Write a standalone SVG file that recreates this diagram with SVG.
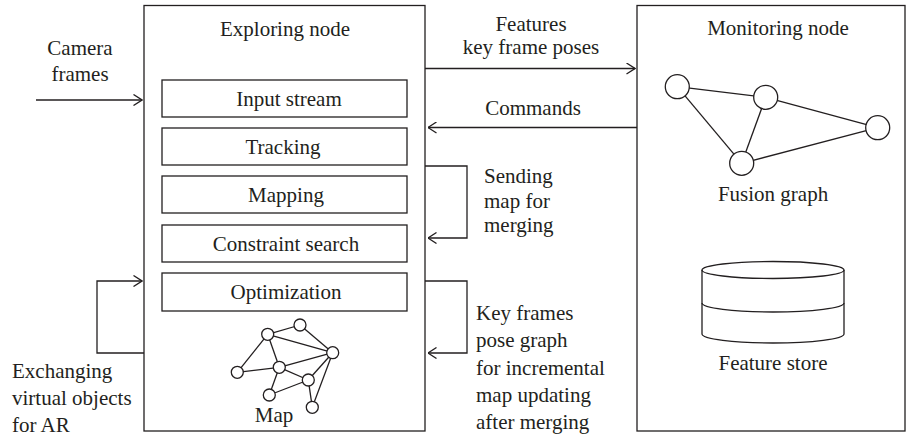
<svg xmlns="http://www.w3.org/2000/svg" width="906" height="436" viewBox="0 0 906 436">
  <style>
    text { font-family: "Liberation Serif", "Times New Roman", serif; font-size: 21px; fill: #231f20; }
    .mid { text-anchor: middle; }
    .box { fill: none; stroke: #231f20; stroke-width: 1.3; }
    .line { fill: none; stroke: #231f20; stroke-width: 1.3; }
    .node { fill: #ffffff; stroke: #231f20; stroke-width: 1.3; }
  </style>
  <defs>
    <marker id="arrow" viewBox="0 0 10 12" refX="9.5" refY="6" markerWidth="10" markerHeight="12" markerUnits="userSpaceOnUse" orient="auto">
      <path d="M1,0.5 L9.5,6 L1,11.5" fill="none" stroke="#231f20" stroke-width="1.3"/>
    </marker>
  </defs>
  <rect width="906" height="436" fill="#ffffff"/>

  <!-- Exploring node -->
  <g id="exploring-node">
    <rect class="box" x="144" y="5.5" width="281" height="425.5"/>
    <text class="mid" x="285" y="36">Exploring node</text>
  </g>
  <g id="input-stream">
    <rect class="box" x="162" y="80" width="245" height="37"/>
    <text class="mid" x="289" y="106">Input stream</text>
  </g>
  <g id="tracking">
    <rect class="box" x="162" y="128" width="245" height="37"/>
    <text class="mid" x="283" y="154">Tracking</text>
  </g>
  <g id="mapping">
    <rect class="box" x="162" y="176" width="245" height="37"/>
    <text class="mid" x="286" y="202">Mapping</text>
  </g>
  <g id="constraint-search">
    <rect class="box" x="162" y="225" width="245" height="37"/>
    <text class="mid" x="286" y="251">Constraint search</text>
  </g>
  <g id="optimization">
    <rect class="box" x="162" y="273" width="245" height="38"/>
    <text class="mid" x="286" y="299">Optimization</text>
  </g>

  <!-- Map graph inside the exploring node -->
  <g id="map">
    <g class="line">
      <line x1="267.7" y1="334.3" x2="300" y2="325"/>
      <line x1="267.7" y1="334.3" x2="332.7" y2="352.7"/>
      <line x1="300" y1="325" x2="332.7" y2="352.7"/>
      <line x1="267.7" y1="334.3" x2="237.3" y2="372.3"/>
      <line x1="267.7" y1="334.3" x2="279.3" y2="367.3"/>
      <line x1="237.3" y1="372.3" x2="279.3" y2="367.3"/>
      <line x1="279.3" y1="367.3" x2="332.7" y2="352.7"/>
      <line x1="279.3" y1="367.3" x2="308.3" y2="380"/>
      <line x1="279.3" y1="367.3" x2="269.3" y2="395"/>
      <line x1="269.3" y1="395" x2="308.3" y2="380"/>
      <line x1="308.3" y1="380" x2="332.7" y2="352.7"/>
      <line x1="308.3" y1="380" x2="312.3" y2="407.3"/>
      <line x1="332.7" y1="352.7" x2="312.3" y2="407.3"/>
    </g>
    <circle class="node" cx="267.7" cy="334.3" r="6"/>
    <circle class="node" cx="300" cy="325" r="6"/>
    <circle class="node" cx="332.7" cy="352.7" r="6"/>
    <circle class="node" cx="279.3" cy="367.3" r="6"/>
    <circle class="node" cx="237.3" cy="372.3" r="6"/>
    <circle class="node" cx="308.3" cy="380" r="6"/>
    <circle class="node" cx="269.3" cy="395" r="6"/>
    <circle class="node" cx="312.3" cy="407.3" r="6"/>
    <text class="mid" x="274" y="422">Map</text>
  </g>

  <!-- Monitoring node -->
  <g id="monitoring-node">
    <rect class="box" x="637" y="5.5" width="268" height="425.5"/>
    <text class="mid" x="778" y="35">Monitoring node</text>
  </g>
  <g id="fusion-graph">
    <g class="line">
      <line x1="677.3" y1="86.7" x2="765.7" y2="97.3"/>
      <line x1="677.3" y1="86.7" x2="741.7" y2="163.3"/>
      <line x1="765.7" y1="97.3" x2="741.7" y2="163.3"/>
      <line x1="765.7" y1="97.3" x2="877.7" y2="127.7"/>
      <line x1="741.7" y1="163.3" x2="877.7" y2="127.7"/>
    </g>
    <circle class="node" cx="677.3" cy="86.7" r="12"/>
    <circle class="node" cx="765.7" cy="97.3" r="12"/>
    <circle class="node" cx="877.7" cy="127.7" r="12"/>
    <circle class="node" cx="741.7" cy="163.3" r="12"/>
    <text class="mid" x="773" y="201">Fusion graph</text>
  </g>
  <g id="feature-store">
    <path class="box" d="M702,270 L702,334 A71,9 0 0 0 844,334 L844,270"/>
    <ellipse class="box" cx="773" cy="270" rx="71" ry="8.5"/>
    <path class="box" d="M702,303 A71,9 0 0 0 844,303"/>
    <text class="mid" x="773" y="370">Feature store</text>
  </g>

  <!-- Connectors -->
  <g id="connectors">
    <line class="line" x1="36" y1="100" x2="142" y2="100" marker-end="url(#arrow)"/>
    <line class="line" x1="425" y1="68.5" x2="635" y2="68.5" marker-end="url(#arrow)"/>
    <line class="line" x1="637" y1="127.5" x2="428" y2="127.5" marker-end="url(#arrow)"/>
    <polyline class="line" points="425,166 467,166 467,238 428,238" marker-end="url(#arrow)"/>
    <polyline class="line" points="425,281 467,281 467,353 428,353" marker-end="url(#arrow)"/>
    <polyline class="line" points="144,353 97,353 97,281 142,281" marker-end="url(#arrow)"/>
  </g>

  <!-- Connector labels -->
  <g id="labels">
    <text class="mid" x="80" y="55">Camera</text>
    <text class="mid" x="80" y="81">frames</text>
    <text class="mid" x="531" y="31">Features</text>
    <text class="mid" x="531" y="54">key frame poses</text>
    <text class="mid" x="533" y="115">Commands</text>
    <text x="484" y="183">Sending</text>
    <text x="484" y="208">map for</text>
    <text x="484" y="232">merging</text>
    <text x="476" y="320">Key frames</text>
    <text x="476" y="347">pose graph</text>
    <text x="476" y="375">for incremental</text>
    <text x="476" y="402">map updating</text>
    <text x="476" y="429">after merging</text>
    <text x="12" y="378">Exchanging</text>
    <text x="12" y="405">virtual objects</text>
    <text x="12" y="432">for AR</text>
  </g>
</svg>
